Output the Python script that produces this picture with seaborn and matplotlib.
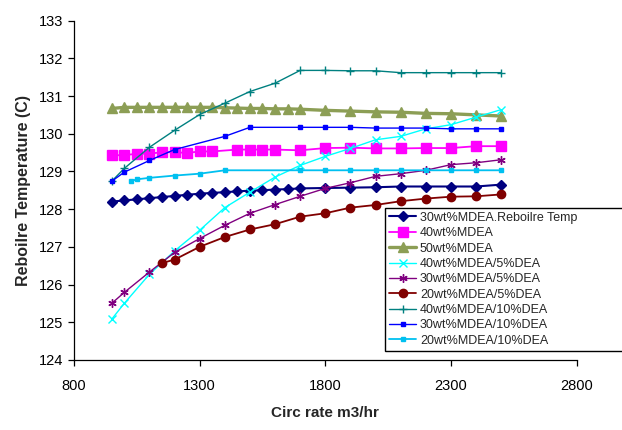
import matplotlib
matplotlib.use("Agg")
import matplotlib.pyplot as plt
import seaborn as sns

# Circulation rate (m3/hr) for each series
x_50step = [950, 1000, 1050, 1100, 1150, 1200, 1250, 1300, 1350, 1400, 1450, 1500,
            1550, 1600, 1650, 1700, 1800, 1900, 2000, 2100, 2200, 2300, 2400, 2500]
x_40mdea = [950, 1000, 1050, 1100, 1150, 1200, 1250, 1300, 1350, 1450, 1500, 1550,
            1600, 1700, 1800, 1900, 2000, 2100, 2200, 2300, 2400, 2500]
x_100step = [950, 1000, 1100, 1200, 1300, 1400, 1500, 1600, 1700, 1800, 1900, 2000,
             2100, 2200, 2300, 2400, 2500]
x_20dea5 = [1150, 1200, 1300, 1400, 1500, 1600, 1700, 1800, 1900, 2000, 2100, 2200,
            2300, 2400, 2500]
x_30dea10 = [950, 1000, 1100, 1200, 1400, 1500, 1700, 1800, 1900, 2000, 2100, 2200,
             2300, 2400, 2500]
x_20dea10 = [1025, 1050, 1100, 1200, 1300, 1400, 1700, 1800, 1900, 2000, 2100, 2200,
             2300, 2400, 2500]

# Reboiler temperatures (C)
t_30mdea = [128.20, 128.23, 128.26, 128.29, 128.32, 128.35, 128.38, 128.41, 128.43, 128.45,
            128.47, 128.49, 128.50, 128.52, 128.53, 128.55, 128.56, 128.57, 128.58, 128.60,
            128.60, 128.60, 128.60, 128.65]
t_40mdea = [129.43, 129.43, 129.47, 129.47, 129.51, 129.51, 129.49, 129.53, 129.53, 129.58,
            129.58, 129.58, 129.58, 129.56, 129.62, 129.63, 129.61, 129.61, 129.62, 129.62,
            129.67, 129.67]
t_50mdea = [130.67, 130.70, 130.70, 130.70, 130.70, 130.70, 130.70, 130.70, 130.70, 130.69,
            130.68, 130.67, 130.67, 130.66, 130.66, 130.65, 130.62, 130.60, 130.58, 130.57,
            130.54, 130.53, 130.50, 130.47]
t_40dea5 = [125.08, 125.50, 126.27, 126.89, 127.44, 128.04, 128.45, 128.85, 129.16, 129.40,
            129.61, 129.84, 129.93, 130.13, 130.24, 130.44, 130.64]
t_30dea5 = [125.50, 125.79, 126.33, 126.85, 127.22, 127.57, 127.89, 128.12, 128.34, 128.55,
            128.70, 128.87, 128.94, 129.03, 129.18, 129.23, 129.31]
t_20dea5 = [126.57, 126.66, 127.00, 127.26, 127.46, 127.60, 127.80, 127.89, 128.04, 128.11,
            128.21, 128.28, 128.33, 128.34, 128.39]
t_40dea10 = [128.74, 129.08, 129.64, 130.09, 130.51, 130.81, 131.12, 131.34, 131.68, 131.68,
             131.67, 131.67, 131.62, 131.62, 131.62, 131.62, 131.62]
t_30dea10 = [128.74, 128.98, 129.29, 129.58, 129.93, 130.17, 130.17, 130.17, 130.17, 130.15,
             130.15, 130.15, 130.13, 130.13, 130.13]
t_20dea10 = [128.74, 128.79, 128.83, 128.89, 128.94, 129.03, 129.03, 129.03, 129.03, 129.03,
             129.03, 129.03, 129.03, 129.03, 129.03]

labels = ["30wt%MDEA.Reboilre Temp", "40wt%MDEA", "50wt%MDEA", "40wt%MDEA/5%DEA",
          "30wt%MDEA/5%DEA", "20wt%MDEA/5%DEA", "40wt%MDEA/10%DEA", "30wt%MDEA/10%DEA",
          "20wt%MDEA/10%DEA"]

sns.set_style("ticks")
plt.rcParams['font.family'] = ['Liberation Sans', 'DejaVu Sans']

fig = plt.figure(figsize=(6.22, 4.30), dpi=100)
ax = fig.add_axes([0.119, 0.163, 0.808, 0.789])

# estilo de cada serie: (x, y, color, marcador, tamaño, grosor de línea)
series = [
    (x_50step, t_30mdea, "#000080", "D", 5, 1.5),
    (x_40mdea, t_40mdea, "#FF00FF", "s", 6.5, 1.3),
    (x_50step, t_50mdea, "#8C9E55", "^", 7.5, 2.4),
    (x_100step, t_40dea5, "#00FFFF", "x", 5.5, 1.0),
    (x_100step, t_30dea5, "#800080", (6, 2, 0), 6, 1.0),
    (x_20dea5, t_20dea5, "#800000", "o", 6, 1.3),
    (x_100step, t_40dea10, "#008080", "+", 6, 1.0),
    (x_30dea10, t_30dea10, "#0000FF", "s", 2.5, 1.0),
    (x_20dea10, t_20dea10, "#00C0F0", "s", 3, 1.3),
]

for (xs, ys, col, mk, ms, lw), lab in zip(series, labels):
    sns.lineplot(x=xs, y=ys, ax=ax, color=col, marker=mk, markersize=ms, linewidth=lw,
                 markeredgecolor=col, markerfacecolor=col, markeredgewidth=1.0, label=lab)

ax.set_xlim(800, 2800)
ax.set_ylim(124, 133)
ax.set_xticks([800, 1300, 1800, 2300, 2800])
ax.set_yticks(range(124, 134))
ax.tick_params(axis='both', direction='out', length=4, width=0.9, labelsize=10.5, colors='black')
ax.tick_params(axis='x', pad=10)
sns.despine(ax=ax)
for sp in ['left', 'bottom']:
    ax.spines[sp].set_color('black')
    ax.spines[sp].set_linewidth(0.9)

ax.set_xlabel("Circ rate m3/hr", fontsize=11, fontweight='bold', labelpad=9)
ax.set_ylabel("Reboilre Temperature (C)", fontsize=11.5, fontweight='bold', labelpad=6)

# la leyenda se sale por la derecha como en el original
leg = ax.legend(loc='upper left', bbox_to_anchor=(385 / 622, 1 - 352 / 430, 0.42, 144 / 430),
                bbox_transform=fig.transFigure, mode='expand', fontsize=9, frameon=True,
                fancybox=False, framealpha=1, edgecolor='black', labelspacing=0.27,
                borderpad=0.3, handlelength=2.2, handletextpad=0.3, borderaxespad=0)
leg.get_frame().set_linewidth(1.0)

plt.savefig("out.png", dpi=100)
